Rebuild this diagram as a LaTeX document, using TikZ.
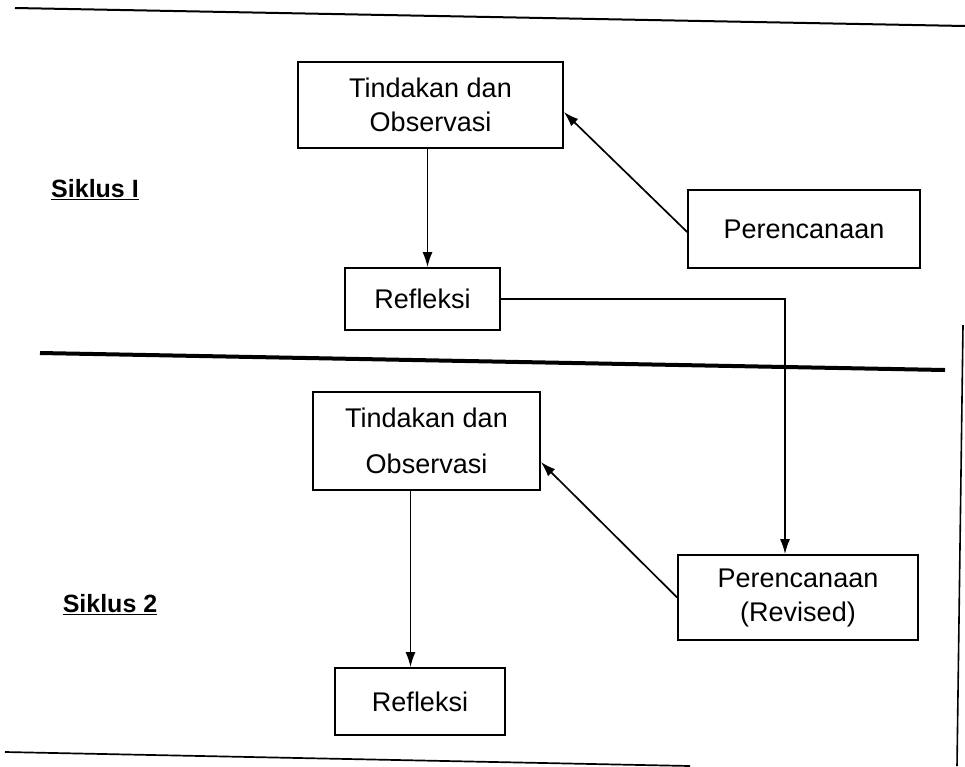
\documentclass[tikz,border=0pt]{standalone}
\usepackage{fontspec}
\setmainfont{Liberation Sans}
\usetikzlibrary{arrows.meta}
\begin{document}
\begin{tikzpicture}[x=1pt,y=-1pt,
  box/.style={draw, line width=1.7pt, inner sep=0pt, align=center, font=\fontsize{27}{34}\selectfont},
  arr/.style={line width=1.7pt, -{Latex[length=15pt,width=10pt]}},
  lbl/.style={font=\bfseries\fontsize{25}{29}\selectfont, inner sep=0pt}]
\useasboundingbox (0,0) rectangle (965,766);
\fill[white] (0,0) rectangle (965,766);
% rules
\draw[line width=2pt] (15,8) -- (965,26);
\draw[line width=4pt] (40,353) -- (945,370);
\draw[line width=1.6pt] (963,325) -- (957,766);
\draw[line width=1.7pt] (5,752) -- (690,766);
% cycle 1
\node[box, minimum width=265, minimum height=86] (t1) at (430.5,105) {Tindakan dan\\Observasi};
\node[box, minimum width=232, minimum height=78] (p1) at (804,229) {Perencanaan};
\node[box, minimum width=155, minimum height=62] (r1) at (422.5,299) {Refleksi};
\node[lbl] (s1) at (95,190) {\underline{Siklus I}};
% cycle 2
\node[box, minimum width=227, minimum height=98] (t2) at (426.5,441) {Tindakan dan\\[12pt]Observasi};
\node[box, minimum width=240, minimum height=85] (pr) at (798,597.5) {Perencanaan\\(Revised)};
\node[box, minimum width=170, minimum height=67] (r2) at (420,701.5) {Refleksi};
\node[lbl] (s2) at (110,605) {\underline{Siklus 2}};
% connectors
\draw[arr] ([xshift=-3]t1.south) -- ([xshift=-3]t1.south |- r1.north);
\draw[arr] ([yshift=-3]p1.west) -- ([yshift=-7]t1.east);
\draw[arr] (r1.east) -| ([xshift=-13]pr.north);
\draw[arr] (pr.west) -- ([yshift=-21]t2.east);
\draw[arr] ([xshift=-16]t2.south) -- ([xshift=-16]t2.south |- r2.north);
\end{tikzpicture}
\end{document}
